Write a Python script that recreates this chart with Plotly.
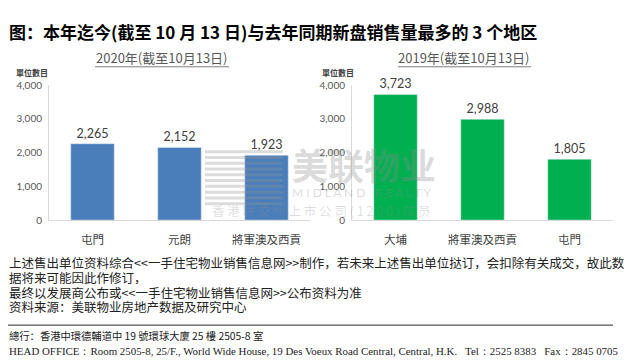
import plotly.graph_objects as go

# ---- data ----
title_text = "图：本年迄今(截至 10 月 13 日)与去年同期新盘销售量最多的 3 个地区"
left_subtitle = "2020年(截至10月13日)"
right_subtitle = "2019年(截至10月13日)"
left_categories = ["屯門", "元朗", "將軍澳及西貢"]
left_values = [2265, 2152, 1923]
right_categories = ["大埔", "將軍澳及西貢", "屯門"]
right_values = [3723, 2988, 1805]
y_ticks = [0, 1000, 2000, 3000, 4000]
y_tick_labels = ["0", "1,000", "2,000", "3,000", "4,000"]
y_axis_title = "單位數目"
notes = [
    "上述售出单位资料综合<<一手住宅物业销售信息网>>制作，若未来上述售出单位挞订，会扣除有关成交，故此数",
    "据将来可能因此作修订，",
    "最终以发展商公布或<<一手住宅物业销售信息网>>公布资料为准",
    "资料来源：美联物业房地产数据及研究中心",
]
footer_cn = "總行：香港中環德輔道中 19 號環球大廈 25 樓 2505-8 室"
footer_en = "HEAD OFFICE：Room 2505-8, 25/F., World Wide House, 19 Des Voeux Road Central, Central, H.K.   Tel：2525 8383   Fax：2845 0705"

W, H = 640, 364
def px(x):
    return x / W
def py(y):
    return 1 - y / H

CJK = "Noto Sans CJK SC, Noto Sans CJK TC, sans-serif"
NUM = "Lato, Open Sans, sans-serif"
BLUE = "#4A7EBB"
GREEN = "#00B050"
GRAY_TXT = "#404040"

fig = go.Figure()

fig.add_trace(go.Bar(
    x=left_categories, y=left_values, xaxis="x", yaxis="y",
    marker_color=BLUE, text=[f"{v:,}" for v in left_values],
    textposition="outside", cliponaxis=False,
    textfont=dict(size=12.5, color=GRAY_TXT, family=NUM),
    showlegend=False, hoverinfo="skip",
))
fig.add_trace(go.Bar(
    x=right_categories, y=right_values, xaxis="x2", yaxis="y2",
    marker_color=GREEN, text=[f"{v:,}" for v in right_values],
    textposition="outside", cliponaxis=False,
    textfont=dict(size=12.5, color=GRAY_TXT, family=NUM),
    showlegend=False, hoverinfo="skip",
))

y_dom = [py(221), py(81)]
yax = dict(range=[0, 4000], tickvals=y_ticks, ticktext=y_tick_labels,
           showgrid=False, zeroline=False, showline=True, linecolor="#D9D9D9",
           linewidth=1, ticks="outside", ticklen=4, tickcolor="rgba(0,0,0,0)",
           tickfont=dict(size=10, color="#595959", family=NUM),
           domain=y_dom, fixedrange=True)
xax = dict(showgrid=False, zeroline=False, showline=True, linecolor="#D9D9D9",
           linewidth=1, ticks="outside", ticklen=9, tickcolor="rgba(0,0,0,0)",
           tickfont=dict(size=11.5, color=GRAY_TXT, family=CJK),
           fixedrange=True)

fig.update_layout(
    width=W, height=H, margin=dict(l=0, r=0, t=0, b=0),
    paper_bgcolor="white", plot_bgcolor="white",
    bargap=0.5,
    xaxis=dict(**xax, domain=[px(49), px(310)], anchor="y"),
    yaxis=dict(**yax, anchor="x"),
    xaxis2=dict(**xax, domain=[px(352), px(613)], anchor="y2"),
    yaxis2=dict(**yax, anchor="x2"),
)

ann = []
ann.append(dict(x=px(7), y=py(25), xref="paper", yref="paper", xanchor="left", yanchor="middle",
                text=f"<b>{title_text}</b>", showarrow=False,
                font=dict(size=17, color="#000", family=CJK)))
for sub, cx in [(left_subtitle, 162), (right_subtitle, 464)]:
    ann.append(dict(x=px(cx), y=py(52), xref="paper", yref="paper", xanchor="center", yanchor="middle",
                    text=sub, showarrow=False, font=dict(size=13, color="#595959", family=CJK)))
for ax_x in [14, 320]:
    ann.append(dict(x=px(ax_x), y=py(68), xref="paper", yref="paper", xanchor="left", yanchor="middle",
                    text=f"<b>{y_axis_title}</b>", showarrow=False,
                    font=dict(size=8, color=GRAY_TXT, family=CJK)))
# watermark
WM = "rgba(140,140,140,0.33)"
ann.append(dict(x=px(364), y=py(163), xref="paper", yref="paper", xanchor="center", yanchor="middle",
                text="<b>美联物业</b>", showarrow=False,
                font=dict(size=36, color=WM, family=CJK)))
ann.append(dict(x=px(362), y=py(192), xref="paper", yref="paper", xanchor="center", yanchor="middle",
                text="M I D L A N D   R E A L T Y", showarrow=False,
                font=dict(size=12, color=WM, family=NUM)))
ann.append(dict(x=px(321), y=py(211), xref="paper", yref="paper", xanchor="center", yanchor="middle",
                text="香 港 联 交 所 上 市 公 司 ( 1 2 0 0 ) 成 员", showarrow=False,
                font=dict(size=12.5, color="rgba(140,140,140,0.28)", family=CJK)))
# notes
for line, yy in zip(notes, [265, 281, 296, 311]):
    ann.append(dict(x=px(7), y=py(yy), xref="paper", yref="paper", xanchor="left", yanchor="middle",
                    text=line, showarrow=False, font=dict(size=12.5, color="#222", family=CJK)))
ann.append(dict(x=px(7), y=py(341), xref="paper", yref="paper", xanchor="left", yanchor="middle",
                text=footer_cn, showarrow=False, font=dict(size=10.3, color="#222", family=CJK)))
ann.append(dict(x=px(7), y=py(357), xref="paper", yref="paper", xanchor="left", yanchor="middle",
                text=footer_en, showarrow=False, font=dict(size=10.9, color="#222", family="Liberation Serif, serif")))

shapes = []
# subtitle underlines
for x0, x1 in [(95, 229), (398, 531)]:
    shapes.append(dict(type="line", xref="paper", yref="paper", x0=px(x0), x1=px(x1), y0=py(62), y1=py(62),
                       line=dict(color="#7F7F7F", width=1)))
# separator line
shapes.append(dict(type="line", xref="paper", yref="paper", x0=px(8), x1=px(613), y0=py(330), y1=py(330),
                   line=dict(color="#555", width=1.2)))
# watermark logo stripes
for k in range(10):
    yy = 150 + k * 6
    shapes.append(dict(type="line", xref="paper", yref="paper", x0=px(205), x1=px(283), y0=py(yy), y1=py(yy),
                       line=dict(color="rgba(150,150,150,0.33)", width=3)))

fig.update_layout(annotations=ann, shapes=shapes)
fig.write_html("out.html", config={"displayModeBar": False, "staticPlot": True},
               post_script="document.body.style.margin='0';document.body.style.padding='0';")
